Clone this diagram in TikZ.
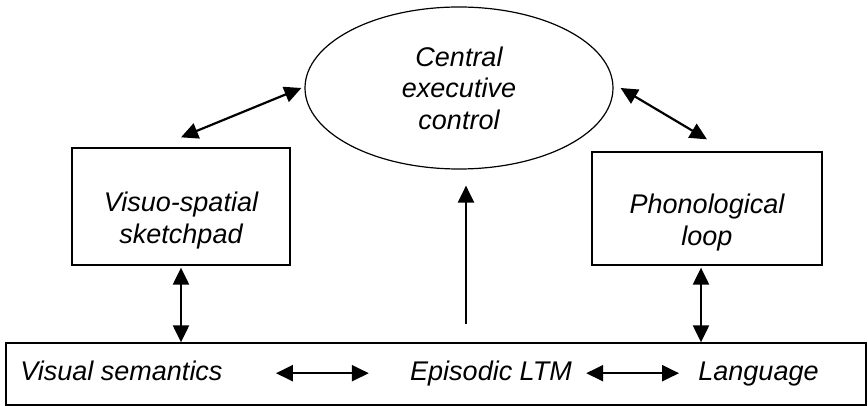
\documentclass[tikz,border=0pt]{standalone}
\usepackage{fontspec}
\setmainfont{Liberation Sans}
\usetikzlibrary{shapes.geometric,arrows.meta}
\begin{document}
\begin{tikzpicture}[x=0.5pt,y=-0.5pt,
    font=\itshape\fontsize{13.5}{15.75}\selectfont,
    oval/.style={draw,ellipse,line width=0.6pt,inner sep=0pt,
      minimum width=154pt,minimum height=81pt,align=center},
    box/.style={draw,rectangle,line width=0.65pt,inner sep=0pt},
    word/.style={inner sep=0pt,anchor=base,text height=9.7pt,text depth=2.9pt},
    tip/.style={-{Triangle[length=8.5pt,width=8pt]},line width=1.1pt},
    dbl/.style={{Triangle[length=8.5pt,width=8pt]}-{Triangle[length=8.5pt,width=8pt]},line width=1.1pt}]
  \useasboundingbox (0,0) rectangle (868,406);
  \node[oval] (ce) at (459,88) {Central\\executive\\control};
  \node[box,minimum width=109pt,minimum height=58.5pt,
    label={[yshift=-7pt,align=center]center:{Visuo-spatial\\sketchpad}}] (vsp) at (181,206.5) {};
  \node[box,minimum width=115pt,minimum height=56.5pt,
    label={[yshift=-7pt,align=center]center:{Phonological\\loop}}] (pl) at (707,208.5) {};
  \node[box,minimum width=430pt,minimum height=31pt] (ltm) at (436,374) {};
  \node[word] (vs) at (121.5,380) {Visual semantics};
  \node[word] (ep) at (491,380) {Episodic LTM};
  \node[word] (lang) at (758.5,380) {Language};
  \begin{scope}[dbl]
    \draw ([yshift=5pt]vsp.north) -- ([xshift=-1.5pt]ce.west);
    \draw ([xshift=3.5pt]ce.east) -- ([yshift=6pt]pl.north);
    \draw[shorten <=1pt] (vsp.south) -- (vsp.south |- ltm.north);
    \draw[shorten <=1pt] ([xshift=-3pt]pl.south) -- ([xshift=-3pt]pl.south |- ltm.north);
    \draw[shorten <=26.5pt,shorten >=20.5pt] (vs) -- (ep);
    \draw[shorten <=7pt,shorten >=9.5pt] (ep) -- (lang);
  \end{scope}
  \draw[tip,shorten <=9pt,shorten >=8pt] ([xshift=3.5pt]ce.south |- ltm.north) -- ([xshift=3.5pt]ce.south);
\end{tikzpicture}
\end{document}
